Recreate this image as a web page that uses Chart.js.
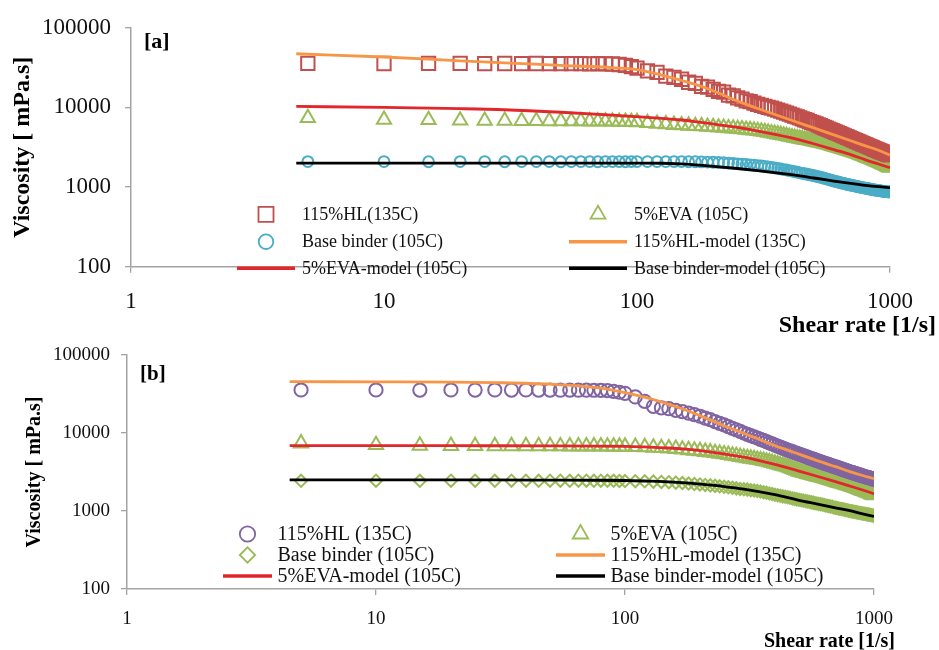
<!DOCTYPE html>
<html><head><meta charset="utf-8">
<script src="https://cdn.jsdelivr.net/npm/chart.js@4.4.1/dist/chart.umd.min.js"></script>
<style>
html,body{margin:0;padding:0;background:#fff;}
body{width:939px;height:650px;position:relative;overflow:hidden;}
canvas{position:absolute;left:0;}
#ca{top:0;}
#cb{top:330px;}
</style></head><body>
<canvas id="ca" width="939" height="345"></canvas>
<canvas id="cb" width="939" height="320"></canvas>
<script>
// ---------- data ----------
const shearRate = [5,10,15,20,25,30,35,40,45,50,55,60,65,70,75,80,85,90,95,100,
110,120,130,140,150,160,170,180,190,200,210,220,230,240,250,260,270,280,290,300,
310,320,330,340,350,360,370,380,390,400,
410,420,430,440,450,460,470,480,490,500,
510,520,530,540,550,560,570,580,590,600,
610,620,630,640,650,660,670,680,690,700,
710,720,730,740,750,760,770,780,790,800,
810,820,830,840,850,860,870,880,890,900,
910,920,930,940,950,960,970,980,990,1000];
const modelRate = [4.5,10,20,30,50,80,100,125,150,175,200,250,300,400,500,600,700,800,900,1000];
const xTicks = [1,10,100,1000];
const yTicks = [100,1000,10000,100000];

const labelsA = ['115%HL(135C)','5%EVA (105C)','Base binder (105C)','115%HL-model (135C)','5%EVA-model (105C)','Base binder-model (105C)'];
const labelsB = ['115%HL (135C)','5%EVA (105C)','Base binder (105C)','115%HL-model (135C)','5%EVA-model (105C)','Base binder-model (105C)'];

const hlA = [35800,35600,35700,35700,35500,35600,35500,35600,35400,35500,35400,35500,35300,35400,35200,35100,34600,33800,32600,31200,
28800,27600,24800,23900,22600,20700,20100,18400,18000,16900,15900,15600,14300,14000,13200,12700,12100,11800,11300,10900,
10600,10300,10000,9800,9500,9250,9000,8750,8500,8250,
8000,7800,7600,7400,7200,7000,6850,6650,6500,6350,
6200,6050,5900,5750,5600,5480,5350,5230,5100,5000,
4880,4780,4680,4580,4480,4400,4300,4220,4140,4060,
3980,3900,3830,3760,3690,3630,3560,3500,3440,3380,
3330,3270,3220,3170,3120,3070,3020,2980,2930,2890,
2850,2810,2770,2730,2700,2660,2630,2600,2570,2540];
const evaA = [7400,7000,6950,6850,6800,6800,6780,6760,6750,6740,6720,6710,6700,6690,6680,6660,6640,6610,6580,6550,
6400,6250,6150,6050,5980,5920,5860,5800,5740,5680,5620,5560,5500,5440,5380,5320,5260,5200,5140,5080,
5000,4920,4840,4760,4680,4600,4530,4450,4380,4300,
4240,4180,4120,4060,4010,3950,3900,3850,3800,3750,
3700,3650,3600,3550,3500,3450,3400,3350,3300,3250,
3200,3150,3110,3060,3020,2980,2930,2890,2840,2800,
2760,2720,2680,2640,2600,2560,2520,2480,2440,2400,
2360,2330,2290,2260,2220,2190,2150,2120,2080,2050,
2020,1990,1960,1930,1900,1870,1840,1810,1780,1750];
const baseA = [2090,2090,2080,2090,2090,2080,2090,2090,2090,2080,2090,2090,2090,2080,2090,2090,2090,2080,2090,2090,
2090,2090,2090,2090,2090,2080,2080,2070,2060,2050,2040,2020,2000,1980,1960,1940,1920,1900,1880,1860,
1840,1820,1790,1770,1740,1720,1690,1660,1640,1610,
1590,1560,1540,1510,1490,1470,1450,1430,1410,1390,
1370,1350,1330,1310,1290,1270,1250,1230,1210,1190,
1180,1160,1150,1130,1120,1110,1090,1080,1070,1060,
1050,1040,1030,1020,1010,1000,990,985,975,970,
960,955,945,940,935,925,920,915,910,905,
900,895,890,885,880,878,875,872,870,868];
const hlModelA = [47200,43000,38500,36300,33800,31600,29800,25500,21800,18900,16200,12000,9700,7060,5530,4530,3820,3290,2900,2520];
const evaModelA = [10300,10000,9650,9350,8700,8000,7650,7300,6950,6550,6200,5600,5050,4200,3500,2950,2550,2200,1950,1750];
const baseModelA = [2000,2000,2000,2000,2000,2000,1995,1990,1950,1890,1820,1710,1610,1440,1300,1190,1110,1050,1010,985];

const hlB = [35600,35600,35500,35600,35500,35600,35500,35600,35500,35500,35400,35500,35400,35400,35300,35200,34900,34200,33300,32300,
29000,25500,22000,21000,20500,19500,18800,18000,17200,16400,15500,14800,14000,13300,12700,12100,11500,11000,10500,10000,
9630,9280,8950,8630,8300,8020,7750,7490,7240,7000,
6800,6600,6410,6230,6050,5900,5760,5620,5480,5350,
5240,5130,5020,4910,4800,4710,4620,4530,4440,4350,
4270,4200,4120,4050,3980,3920,3860,3800,3740,3680,
3620,3570,3510,3460,3400,3360,3310,3270,3220,3180,
3140,3100,3060,3030,2990,2950,2920,2890,2850,2820,
2790,2760,2730,2710,2680,2650,2630,2600,2580,2550];
const evaB = [7360,7030,6900,6850,6820,6800,6800,6790,6780,6780,6770,6760,6760,6750,6740,6730,6720,6710,6700,6690,
6650,6600,6500,6430,6350,6250,6150,6050,5950,5850,5750,5650,5550,5450,5350,5250,5150,5050,4950,4860,
4780,4700,4620,4550,4480,4400,4320,4240,4150,4050,
3970,3890,3810,3730,3650,3560,3470,3380,3290,3200,
3150,3100,3050,3000,2950,2910,2870,2830,2790,2750,
2720,2680,2640,2600,2560,2530,2490,2460,2420,2380,
2350,2320,2290,2260,2240,2210,2180,2150,2130,2100,
2070,2040,2020,1990,1960,1940,1910,1880,1860,1830,
1810,1780,1760,1740,1710,1690,1670,1640,1620,1600];
const baseB = [2440,2450,2440,2450,2450,2440,2450,2450,2440,2450,2450,2440,2450,2450,2440,2450,2440,2440,2430,2420,
2410,2400,2380,2360,2340,2310,2280,2250,2220,2190,2160,2130,2100,2070,2040,2010,1980,1950,1920,1900,
1880,1850,1830,1800,1780,1740,1710,1680,1650,1620,
1590,1570,1540,1520,1500,1480,1450,1430,1410,1390,
1370,1360,1340,1320,1310,1290,1280,1260,1250,1230,
1220,1210,1190,1180,1170,1150,1140,1130,1110,1100,
1090,1080,1070,1060,1050,1040,1030,1020,1010,1000,
990,985,980,970,965,955,950,945,935,930,
925,920,910,905,900,895,890,880,875,870];
const hlModelB = [45500,45300,45000,44300,42200,37600,33000,27800,23300,19700,16700,12400,9900,6900,5350,4350,3700,3200,2850,2600];
const evaModelB = [6900,6900,6880,6860,6830,6780,6720,6600,6420,6200,5950,5400,4900,3950,3250,2750,2380,2090,1860,1660];
const baseModelB = [2500,2500,2500,2500,2490,2480,2460,2420,2360,2290,2210,2060,1910,1620,1370,1220,1100,1010,920,850];

// ---------- styling ----------
const SERIF = "'Liberation Serif','Times New Roman',Times,serif";
const AXIS = '#a3a3a3';
const C = {red:'#c0504d', green:'#9bbb59', blue:'#4bacc6', purple:'#8064a2', orange:'#f79646', redLine:'#e3262b', black:'#000000'};

function pts(xs, ys){ return xs.map((x,i)=>({x:x, y:ys[i]})); }

function markerSet(label, xs, ys, style, color, r, lr){
  return {label, data:pts(xs,ys), showLine:false, pointStyle:style, pointRadius:r, pointHoverRadius:r,
    pointBorderColor:color, pointBackgroundColor:'rgba(0,0,0,0)', pointBorderWidth:2,
    borderColor:color, backgroundColor:'rgba(0,0,0,0)', order:1, legendRadius:lr};
}
function lineSet(label, xs, ys, color){
  return {label, data:pts(xs,ys), showLine:true, pointRadius:0, pointHoverRadius:0, borderColor:color,
    backgroundColor:color, borderWidth:2.8, cubicInterpolationMode:'monotone', order:0, fill:false};
}

function drawMarker(ctx, style, x, y, r){
  ctx.beginPath();
  if(style==='rect'){ const s=Math.SQRT1_2*r; ctx.rect(x-s,y-s,2*s,2*s); }
  else if(style==='circle'){ ctx.arc(x,y,r,0,Math.PI*2); }
  else if(style==='triangle'){
    ctx.moveTo(x, y-r); ctx.lineTo(x+0.866*r, y+0.5*r); ctx.lineTo(x-0.866*r, y+0.5*r); ctx.closePath();
  } else if(style==='rectRot'){
    ctx.moveTo(x-r,y); ctx.lineTo(x,y-r); ctx.lineTo(x+r,y); ctx.lineTo(x,y+r); ctx.closePath();
  }
  ctx.stroke();
}

function decorPlugin(cfg){
  return {
    id:'decor',
    afterDraw(chart){
      const ctx = chart.ctx, ca = chart.chartArea;
      ctx.save();
      ctx.fillStyle = '#000';
      // panel tag
      ctx.font = 'bold '+cfg.tagSize+'px '+SERIF;
      ctx.textAlign='left'; ctx.textBaseline='middle';
      ctx.fillText(cfg.tag, cfg.tagX, cfg.tagY);
      // y title
      ctx.save();
      ctx.translate(cfg.yTitleX, (ca.top+ca.bottom)/2);
      ctx.rotate(-Math.PI/2);
      ctx.textAlign='center'; ctx.textBaseline='middle';
      ctx.font = 'bold '+cfg.yTitleSize+'px '+SERIF;
      ctx.fillText(cfg.yTitle, 0, 0);
      ctx.restore();
      // x title
      ctx.font = 'bold '+cfg.xTitleSize+'px '+SERIF;
      ctx.textAlign='right'; ctx.textBaseline='alphabetic';
      ctx.fillText(cfg.xTitle, cfg.xTitleRight, cfg.xTitleBase);
      // legend
      ctx.font = cfg.legSize+'px '+SERIF;
      ctx.textAlign='left'; ctx.textBaseline='middle';
      chart.data.datasets.forEach((ds,i)=>{
        const cx = cfg.legCols[i%2], cy = cfg.legRows[Math.floor(i/2)];
        if(ds.showLine){
          ctx.strokeStyle = ds.borderColor; ctx.lineWidth = 3.5; ctx.lineCap='butt';
          ctx.beginPath(); ctx.moveTo(cx-cfg.legHalf, cy); ctx.lineTo(cx+cfg.legHalf, cy); ctx.stroke();
        } else {
          ctx.strokeStyle = ds.pointBorderColor; ctx.lineWidth = 1.8;
          drawMarker(ctx, ds.pointStyle, cx, cy, ds.legendRadius);
        }
        ctx.fillStyle = '#111';
        ctx.fillText(ds.label, cx+cfg.legText, cy+1);
      });
      ctx.restore();
    }
  };
}

function makeScales(cfg){
  return {
    x:{ type:'logarithmic', min:1, max:1000,
      afterBuildTicks:s=>{ s.ticks = xTicks.map(v=>({value:v})); },
      afterFit:s=>{ s.height = cfg.xAxisH; },
      ticks:{ callback:v=>String(v), font:{family:SERIF, size:cfg.tickSize}, color:'#111', padding:cfg.xPad, autoSkip:false, maxRotation:0, minRotation:0 },
      grid:{ drawOnChartArea:false, drawTicks:true, tickLength:6, color:AXIS, lineWidth:1.3 },
      border:{ color:AXIS, width:1.5 } },
    y:{ type:'logarithmic', min:100, max:100000,
      afterBuildTicks:s=>{ s.ticks = yTicks.map(v=>({value:v})); },
      afterFit:s=>{ s.width = cfg.yAxisW; },
      ticks:{ callback:v=>String(v), font:{family:SERIF, size:cfg.tickSize}, color:'#111', padding:cfg.yPad, autoSkip:false },
      grid:{ drawOnChartArea:false, drawTicks:true, tickLength:6, color:AXIS, lineWidth:1.3 },
      border:{ color:AXIS, width:1.5 } }
  };
}

function baseOptions(cfg){
  return {
    responsive:false, animation:false, events:[],
    layout:{ padding:cfg.padding },
    plugins:{ legend:{display:false}, tooltip:{enabled:false}, title:{display:false} },
    scales: makeScales(cfg)
  };
}

// ---------- panel a ----------
const cfgA = {padding:{left:0, top:20, right:49, bottom:0}, xAxisH:78.3, yAxisW:131, tickSize:23, xPad:15, yPad:14,
  tag:'[a]', tagSize:22, tagX:144, tagY:42, yTitle:'Viscosity [ mPa.s]', yTitleSize:24, yTitleX:23,
  xTitle:'Shear rate [1/s]', xTitleSize:24, xTitleRight:936, xTitleBase:332,
  legSize:18, legCols:[266, 598], legRows:[214.3, 241.7, 268.3], legHalf:29, legText:36};
new Chart(document.getElementById('ca'), {
  type:'scatter',
  data:{ datasets:[
    markerSet(labelsA[0], shearRate, hlA, 'rect', C.red, 9.4, 10.6),
    markerSet(labelsA[1], shearRate, evaA, 'triangle', C.green, 8.2, 8.6),
    markerSet(labelsA[2], shearRate, baseA, 'circle', C.blue, 5.4, 7.3),
    lineSet(labelsA[3], modelRate, hlModelA, C.orange),
    lineSet(labelsA[4], modelRate, evaModelA, C.redLine),
    lineSet(labelsA[5], modelRate, baseModelA, C.black)
  ]},
  options: baseOptions(cfgA),
  plugins:[decorPlugin(cfgA)]
});

// ---------- panel b ----------
const cfgB = {padding:{left:0, top:25, right:65, bottom:0}, xAxisH:61, yAxisW:127, tickSize:19, xPad:13, yPad:11,
  tag:'[b]', tagSize:21, tagX:140, tagY:45, yTitle:'Viscosity [ mPa.s]', yTitleSize:20, yTitleX:35,
  xTitle:'Shear rate [1/s]', xTitleSize:20, xTitleRight:895, xTitleBase:316.5,
  legSize:20, legCols:[247.5, 580.5], legRows:[204, 225, 246], legHalf:24.5, legText:30};
new Chart(document.getElementById('cb'), {
  type:'scatter',
  data:{ datasets:[
    markerSet(labelsB[0], shearRate, hlB, 'circle', C.purple, 6.6, 7.7),
    markerSet(labelsB[1], shearRate, evaB, 'triangle', C.green, 8.3, 9),
    markerSet(labelsB[2], shearRate, baseB, 'rectRot', C.green, 6.1, 7.7),
    lineSet(labelsB[3], modelRate, hlModelB, C.orange),
    lineSet(labelsB[4], modelRate, evaModelB, C.redLine),
    lineSet(labelsB[5], modelRate, baseModelB, C.black)
  ]},
  options: baseOptions(cfgB),
  plugins:[decorPlugin(cfgB)]
});
</script>
</body></html>
